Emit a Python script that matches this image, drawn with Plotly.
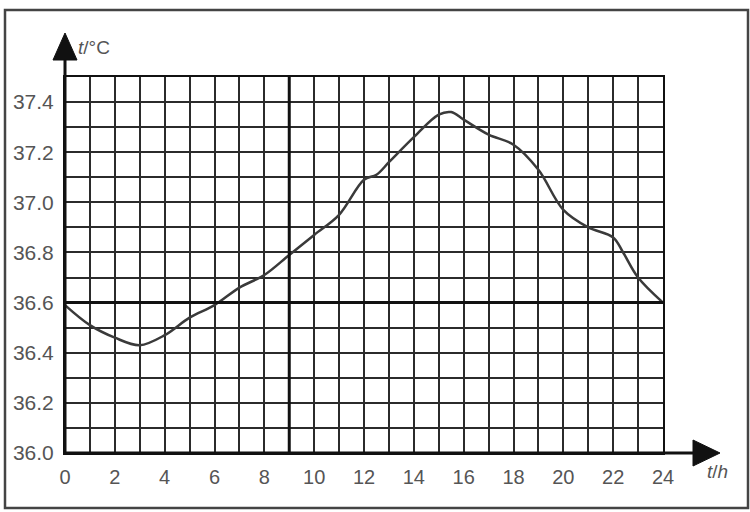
import plotly.graph_objects as go

# body temperature over one day
hours = [0, 1, 2, 3, 4, 5, 6, 7, 8, 9, 10, 11, 12, 12.5, 13, 14, 15, 15.5, 16, 17, 18, 19, 20, 21, 22, 22.4, 23, 24]
temps = [36.59, 36.51, 36.46, 36.43, 36.47, 36.54, 36.59, 36.66, 36.71, 36.79, 36.87, 36.95, 37.09, 37.11, 37.16,
         37.26, 37.35, 37.36, 37.33, 37.27, 37.23, 37.13, 36.97, 36.90, 36.86, 36.80, 36.70, 36.60]
y_ticks = [36.0, 36.2, 36.4, 36.6, 36.8, 37.0, 37.2, 37.4]
x_ticks = list(range(0, 25, 2))

W, H = 750, 512
L, R, T, B = 65, 663, 77, 453   # grid box in pixels


def px(x):
    return (x - L) / (R - L)


def py(y):
    return (B - y) / (B - T)


grid = "#2b2b2b"
txt = "#555555"

fig = go.Figure()
fig.add_trace(go.Scatter(x=hours, y=temps, mode="lines", line_shape="spline",
                         line=dict(color="#3a3a3a", width=2.5), hoverinfo="skip"))

shapes = []
# outer frame
shapes.append(dict(type="rect", xref="paper", yref="paper", x0=px(5), x1=px(748), y0=py(508), y1=py(10),
                   line=dict(color="#444", width=2.5)))
# thick reference lines
shapes.append(dict(type="line", xref="x", yref="y", x0=0, x1=24, y0=36.6, y1=36.6, line=dict(color="#111", width=3)))
shapes.append(dict(type="line", xref="x", yref="y", x0=9, x1=9, y0=36.0, y1=37.5, line=dict(color="#111", width=3)))
# axis arrows
shapes.append(dict(type="line", xref="paper", yref="paper", x0=0, x1=0, y0=0, y1=py(50), line=dict(color="#111", width=3)))
shapes.append(dict(type="line", xref="paper", yref="paper", x0=0, x1=px(705), y0=0, y1=0, line=dict(color="#111", width=3)))
shapes.append(dict(type="path", xref="paper", yref="paper", fillcolor="#111", line=dict(color="#111", width=1),
                   path=f"M {px(65)} {py(33)} L {px(53)} {py(60)} L {px(77)} {py(60)} Z"))
shapes.append(dict(type="path", xref="paper", yref="paper", fillcolor="#111", line=dict(color="#111", width=1),
                   path=f"M {px(720)} {py(453)} L {px(693)} {py(440)} L {px(693)} {py(466)} Z"))

annotations = [
    dict(xref="paper", yref="paper", x=px(76), y=py(48), text="<i>t</i>/°C", showarrow=False,
         xanchor="left", yanchor="middle", font=dict(size=19, color=txt, family="Arial")),
    dict(xref="paper", yref="paper", x=px(705), y=py(471), text="<i>t</i>/<i>h</i>", showarrow=False,
         xanchor="left", yanchor="middle", font=dict(size=19, color=txt, family="Arial")),
]

fig.update_layout(
    width=W, height=H,
    margin=dict(l=L, r=W - R, t=T, b=H - B),
    paper_bgcolor="white", plot_bgcolor="white",
    showlegend=False,
    shapes=shapes,
    annotations=annotations,
    font=dict(family="Arial", size=20, color=txt),
)
fig.update_xaxes(range=[0, 24], tickvals=x_ticks, showgrid=True, gridcolor=grid, gridwidth=2,
                 minor=dict(dtick=1, showgrid=True, gridcolor=grid, gridwidth=2),
                 zeroline=False, showline=True, linecolor="#111", linewidth=2, mirror=True,
                 ticks="", ticklabelstandoff=5, tickfont=dict(size=20, color=txt))
fig.update_yaxes(range=[36.0, 37.5], tickvals=y_ticks, tickformat=".1f", showgrid=True, gridcolor=grid, gridwidth=2,
                 minor=dict(dtick=0.1, showgrid=True, gridcolor=grid, gridwidth=2),
                 zeroline=False, showline=True, linecolor="#111", linewidth=2, mirror=True,
                 ticks="", ticklabelstandoff=5, tickfont=dict(size=21, color=txt))

# the page has a default body margin; drop it so the figure fills the window
fig.write_html("out.html", config={"displayModeBar": False},
               post_script="document.body.style.margin='0';")
